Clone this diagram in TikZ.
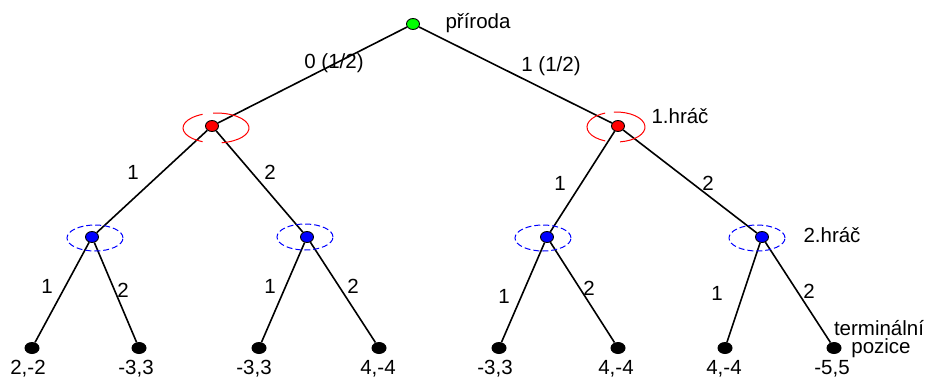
\documentclass[tikz,border=0pt]{standalone}
\usepackage{fontspec}
\setmainfont{Liberation Sans}
\usepackage{tikz}
\usetikzlibrary{shapes}

\tikzset{
    uzel/.style={draw, ellipse, line width=0.9pt, minimum width=13pt, minimum height=11pt, inner sep=0pt},
    list/.style={ellipse, fill=black, minimum width=15pt, minimum height=12pt, inner sep=0pt},
    hrana/.style={line width=1.6pt},
    popis/.style={font=\fontsize{20.5}{22}\selectfont, anchor=base, inner sep=0pt},
}

\begin{document}
\begin{tikzpicture}[x=1pt, y=1pt]
    \useasboundingbox (0,0) rectangle (925,-378);
    % uzly
    \node[uzel, fill=green] (p) at (413,-24) {};
    \node[uzel, fill=red] (a) at (212,-126) {};
    \node[uzel, fill=red] (b) at (618,-126) {};
    \node[uzel, fill=blue] (a1) at (92,-237) {};
    \node[uzel, fill=blue] (a2) at (307,-237) {};
    \node[uzel, fill=blue] (b1) at (547,-237) {};
    \node[uzel, fill=blue] (b2) at (762,-237) {};
    \node[list] (t1) at (32,-348) {};
    \node[list] (t2) at (139,-348) {};
    \node[list] (t3) at (259,-348) {};
    \node[list] (t4) at (379,-348) {};
    \node[list] (t5) at (499,-348) {};
    \node[list] (t6) at (618,-348) {};
    \node[list] (t7) at (725,-348) {};
    \node[list] (t8) at (834,-348) {};
    % hrany
    \draw[hrana] (p) -- (a);
    \draw[hrana] (p) -- (b);
    \draw[hrana] (a) -- (a1);
    \draw[hrana] (a) -- (a2);
    \draw[hrana] (b) -- (b1);
    \draw[hrana] (b) -- (b2);
    \draw[hrana] (a1) -- (t1);
    \draw[hrana] (a1) -- (t2);
    \draw[hrana] (a2) -- (t3);
    \draw[hrana] (a2) -- (t4);
    \draw[hrana] (b1) -- (t5);
    \draw[hrana] (b1) -- (t6);
    \draw[hrana] (b2) -- (t7);
    \draw[hrana] (b2) -- (t8);
    % informacni mnoziny
    \draw[red, line width=1pt] (216,-128) ++(114:33 and 15) arc[start angle=114, end angle=246, x radius=33, y radius=15];
    \draw[red, line width=1pt] (216,-128) ++(95:33 and 15) arc[start angle=95, end angle=-80, x radius=33, y radius=15];
    \draw[red, line width=1pt] (616,-127) ++(112:29 and 15) arc[start angle=112, end angle=248, x radius=29, y radius=15];
    \draw[red, line width=1pt] (616,-127) ++(94:29 and 15) arc[start angle=94, end angle=-82, x radius=29, y radius=15];
    \foreach \x/\y in {95/238, 305/237, 543/238, 757/238}
        \draw[blue, line width=1pt, dash pattern=on 6pt off 3pt] (\x,-\y) ellipse[x radius=28, y radius=13];
    % popisky
    \node[popis] (lp) at (478,-28) {příroda};
    \node[popis] (l1) at (680,-123) {1.hráč};
    \node[popis] (l2) at (832,-242) {2.hráč};
    \node[popis] (lt1) at (879,-335) {terminální};
    \node[popis] (lt2) at (881,-353) {pozice};
    \node[popis] (e1) at (334,-68) {0 (1/2)};
    \node[popis] (e2) at (551,-71) {1 (1/2)};
    \node[popis] (e3) at (133,-179) {1};
    \node[popis] (e4) at (270,-179) {2};
    \node[popis] (e5) at (560,-190) {1};
    \node[popis] (e6) at (708,-190) {2};
    \node[popis] (e7) at (47,-293) {1};
    \node[popis] (e8) at (123,-297) {2};
    \node[popis] (e9) at (270,-293) {1};
    \node[popis] (e10) at (353,-293) {2};
    \node[popis] (e11) at (504,-303) {1};
    \node[popis] (e12) at (589,-295) {2};
    \node[popis] (e13) at (717,-300) {1};
    \node[popis] (e14) at (809,-298) {2};
    \node[popis] (v1) at (28,-374) {2,-2};
    \node[popis] (v2) at (136,-374) {-3,3};
    \node[popis] (v3) at (254,-374) {-3,3};
    \node[popis] (v4) at (378,-374) {4,-4};
    \node[popis] (v5) at (495,-374) {-3,3};
    \node[popis] (v6) at (616,-374) {4,-4};
    \node[popis] (v7) at (724,-374) {4,-4};
    \node[popis] (v8) at (832,-374) {-5,5};
\end{tikzpicture}
\end{document}
